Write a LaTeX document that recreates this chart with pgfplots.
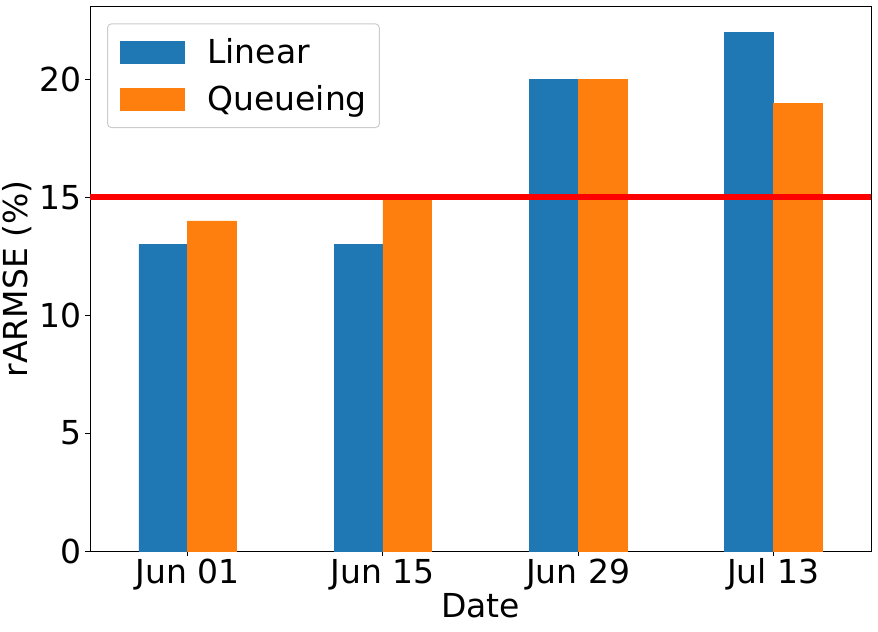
\documentclass[border=0pt]{standalone}
\usepackage{fontspec}
\setmainfont{DejaVu Sans}
\usepackage{pgfplots}
\pgfplotsset{compat=1.18}
\definecolor{mblue}{HTML}{1F77B4}
\definecolor{morange}{HTML}{FF7F0E}
\newcommand{\bigf}{\fontsize{33bp}{39bp}\selectfont}
\begin{document}
\bigf
\begin{tikzpicture}
\begin{axis}[
  scale only axis, width=781bp, height=544.5bp,
  xmin=-0.5, xmax=3.5, ymin=0, ymax=23.1,
  ybar, bar width=0.25,
  xtick={0,1,2,3}, xticklabels={Jun 01,Jun 15,Jun 29,Jul 13},
  ytick={0,5,10,15,20},
  xtick pos=bottom, ytick pos=left,
  tick align=outside, major tick length=5bp,
  tick style={black, line width=1bp},
  axis line style={black, line width=1bp},
  /pgf/number format/assume math mode=true,
  tick label style={font=\bigf},
  xticklabel style={inner sep=0pt, anchor=base, yshift=-27bp},
  yticklabel style={inner sep=0pt, anchor=east, xshift=-3bp},
  label style={font=\bigf},
  xlabel={Date}, ylabel={rARMSE (\%)},
  xlabel style={at={(axis description cs:0.5,-0.1212)}, anchor=base, inner sep=0pt},
  ylabel style={at={(axis description cs:-0.093,0.5)}, anchor=center, inner sep=0pt},
  legend image code/.code={\fill[#1, sharp corners, fill opacity=1] (0bp,-11.2bp) rectangle (64bp,11.2bp);},
  legend cell align=left,
  legend style={at={(0.0218,0.969)}, anchor=north west, draw=black!20, line width=1bp,
    rounded corners=4bp, fill=white, fill opacity=0.8, text opacity=1,
    inner xsep=12.5bp, inner ysep=10.5bp, row sep=11.4bp, column sep=23bp,
    font=\bigf,
    nodes={inner sep=0pt, text height=0.88em, text depth=0.2em}},
]
\addplot[fill=mblue, draw=mblue, line width=0.4bp, bar shift=-0.125] coordinates {(0,13) (1,13) (2,20) (3,22)};
\addplot[fill=morange, draw=morange, line width=0.4bp, bar shift=0.125] coordinates {(0,14) (1,15) (2,20) (3,19)};
\addplot[red, line width=6bp, sharp plot, mark=none, forget plot] coordinates {(-0.5,15) (3.5,15)};
\legend{Linear, Queueing}
\end{axis}
\pgfresetboundingbox
\path[use as bounding box] ([xshift=-90bp,yshift=-80bp]current axis.south west) rectangle ([xshift=7bp,yshift=6.5bp]current axis.north east);
\end{tikzpicture}
\end{document}
